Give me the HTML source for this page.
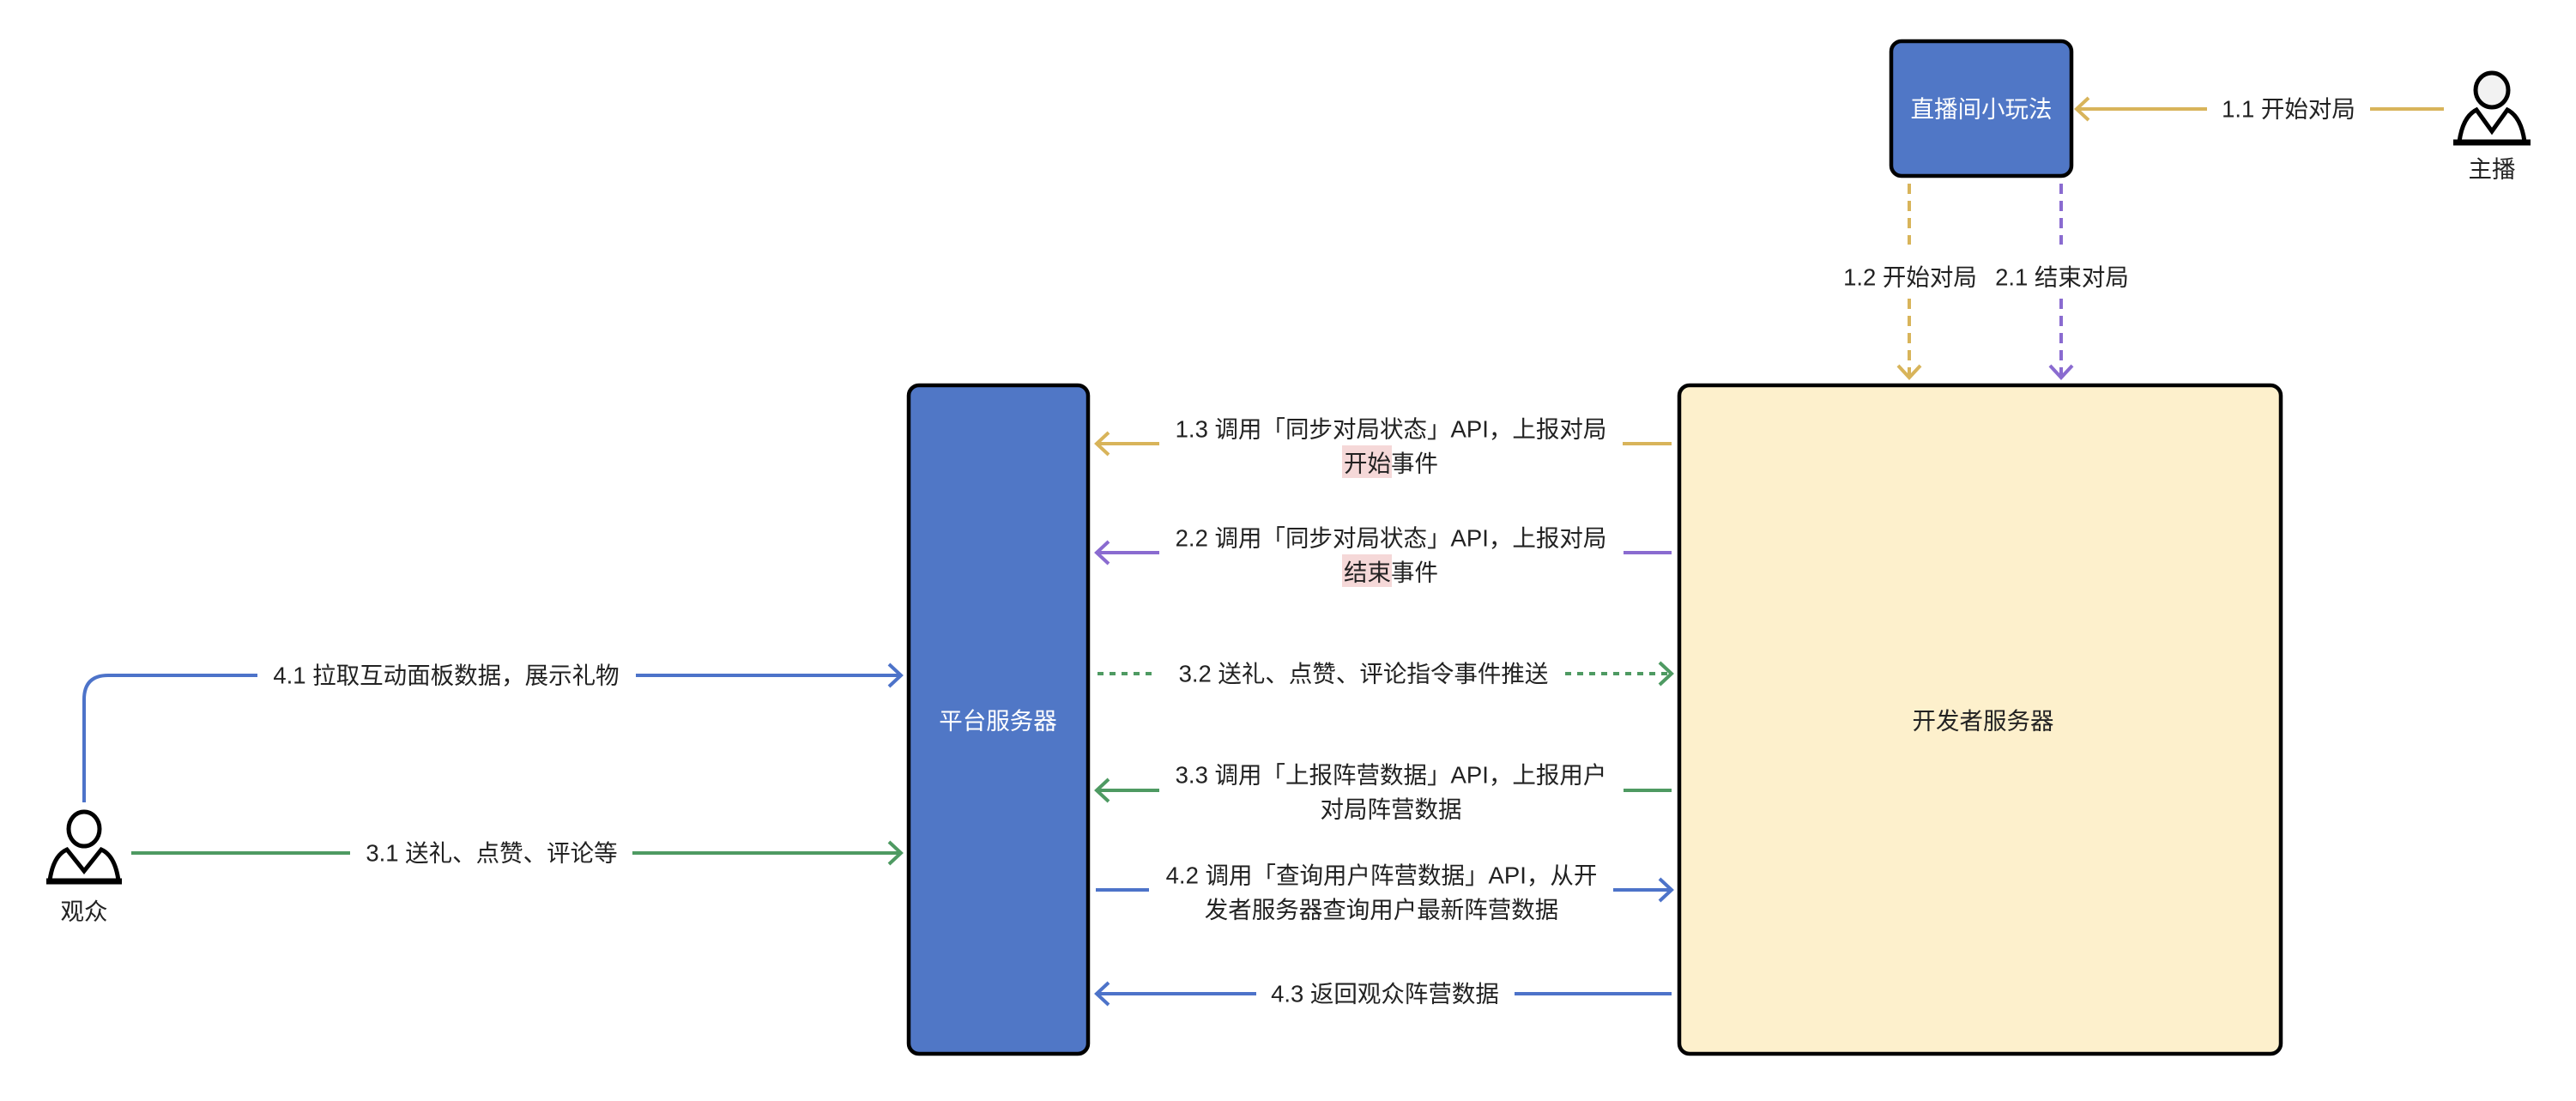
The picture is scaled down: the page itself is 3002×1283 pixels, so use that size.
<!DOCTYPE html>
<html><head><meta charset="utf-8"><style>
html,body{margin:0;padding:0;background:#fff}
svg text{font-family:"Liberation Sans","Noto Sans CJK SC",sans-serif;font-size:27.5px;fill:#222}
</style></head><body>
<svg width="3002" height="1278" viewBox="0 0 3002 1278" xmlns="http://www.w3.org/2000/svg">
<g fill="none" stroke-linecap="butt">
<rect x="2204" y="48" width="210" height="157" rx="12" fill="#5077C6" stroke="#000" stroke-width="4.5"/>
<rect x="1059" y="449" width="209" height="779" rx="12" fill="#5077C6" stroke="#000" stroke-width="4.5"/>
<rect x="1957" y="449" width="701" height="779" rx="12" fill="#FDF0CC" stroke="#000" stroke-width="4.5"/>

<g stroke="#D8B45A" stroke-width="4">
<line x1="2420" y1="127" x2="2572" y2="127"/><line x1="2762" y1="127" x2="2848" y2="127"/>
<polyline points="2434,114 2420,127 2434,140"/>
<line x1="2225" y1="214" x2="2225" y2="285" stroke-dasharray="12,8"/>
<line x1="2225" y1="348" x2="2225" y2="438" stroke-dasharray="12,8"/>
<polyline points="2212,426 2225,440 2238,426"/>
<line x1="1277" y1="517" x2="1351" y2="517"/><line x1="1891" y1="517" x2="1948" y2="517"/>
<polyline points="1292,504 1278,517 1292,530"/>
</g>
<g stroke="#8A6BD0" stroke-width="4">
<line x1="2402" y1="214" x2="2402" y2="285" stroke-dasharray="12,8"/>
<line x1="2402" y1="348" x2="2402" y2="438" stroke-dasharray="12,8"/>
<polyline points="2389,426 2402,440 2415,426"/>
<line x1="1277" y1="644" x2="1351" y2="644"/><line x1="1892" y1="644" x2="1948" y2="644"/>
<polyline points="1292,631 1278,644 1292,657"/>
</g>
<g stroke="#4E9A62" stroke-width="4">
<line x1="1279" y1="785" x2="1349" y2="785" stroke-dasharray="7,7"/>
<line x1="1824" y1="785" x2="1946" y2="785" stroke-dasharray="7,7"/>
<polyline points="1934,772 1948,785 1934,798"/>
<line x1="1277" y1="921" x2="1351" y2="921"/><line x1="1892" y1="921" x2="1948" y2="921"/>
<polyline points="1292,908 1278,921 1292,934"/>
<line x1="153" y1="994" x2="408" y2="994"/><line x1="737" y1="994" x2="1050" y2="994"/>
<polyline points="1036,981 1050,994 1036,1007"/>
</g>
<g stroke="#4D73C9" stroke-width="4">
<path d="M98,935 L98,815 Q98,787 126,787 L300,787"/>
<line x1="741" y1="787" x2="1050" y2="787"/>
<polyline points="1036,774 1050,787 1036,800"/>
<line x1="1277" y1="1037" x2="1339" y2="1037"/><line x1="1880" y1="1037" x2="1948" y2="1037"/>
<polyline points="1934,1024 1948,1037 1934,1050"/>
<line x1="1277" y1="1158" x2="1464" y2="1158"/><line x1="1765" y1="1158" x2="1948" y2="1158"/>
<polyline points="1292,1145 1278,1158 1292,1171"/>
</g>

<g stroke="#000" stroke-width="5">
<ellipse cx="2904" cy="105" rx="19" ry="20" fill="#f2f2f2"/>
<path d="M2866,165 Q2870,136 2886,128 L2904,153 L2922,128 Q2938,136 2942,165" />
<line x1="2859" y1="166" x2="2949" y2="166" stroke-width="7"/>
<ellipse cx="98" cy="966" rx="18" ry="20" fill="#fff"/>
<path d="M58,1026 Q62,997 78,990 L98,1015 L118,990 Q134,997 138,1026"/>
<line x1="54" y1="1027" x2="142" y2="1027" stroke-width="7"/>
</g>
</g>

<rect x="1564" y="519" width="58" height="38" fill="#F5D8D8"/>
<rect x="1564" y="646" width="58" height="38" fill="#F5D8D8"/>

<g text-anchor="middle" dominant-baseline="central">
<text x="2309" y="127" style="fill:#fff">直播间小玩法</text>
<text x="1163" y="840" style="fill:#fff">平台服务器</text>
<text x="2311" y="840">开发者服务器</text>
<text x="2667" y="127">1.1 开始对局</text>
<text x="2904" y="197">主播</text>
<text x="2226" y="323">1.2 开始对局</text>
<text x="2403" y="323">2.1 结束对局</text>
<text x="1621" y="500">1.3 调用「同步对局状态」API，上报对局</text>
<text x="1621" y="540">开始事件</text>
<text x="1621" y="627">2.2 调用「同步对局状态」API，上报对局</text>
<text x="1621" y="667">结束事件</text>
<text x="1589" y="785">3.2 送礼、点赞、评论指令事件推送</text>
<text x="1621" y="903">3.3 调用「上报阵营数据」API，上报用户</text>
<text x="1621" y="943">对局阵营数据</text>
<text x="1610" y="1020">4.2 调用「查询用户阵营数据」API，从开</text>
<text x="1610" y="1060">发者服务器查询用户最新阵营数据</text>
<text x="1614" y="1158">4.3 返回观众阵营数据</text>
<text x="520" y="787">4.1 拉取互动面板数据，展示礼物</text>
<text x="573" y="994">3.1 送礼、点赞、评论等</text>
<text x="98" y="1062">观众</text>
</g>
</svg>
</body></html>
